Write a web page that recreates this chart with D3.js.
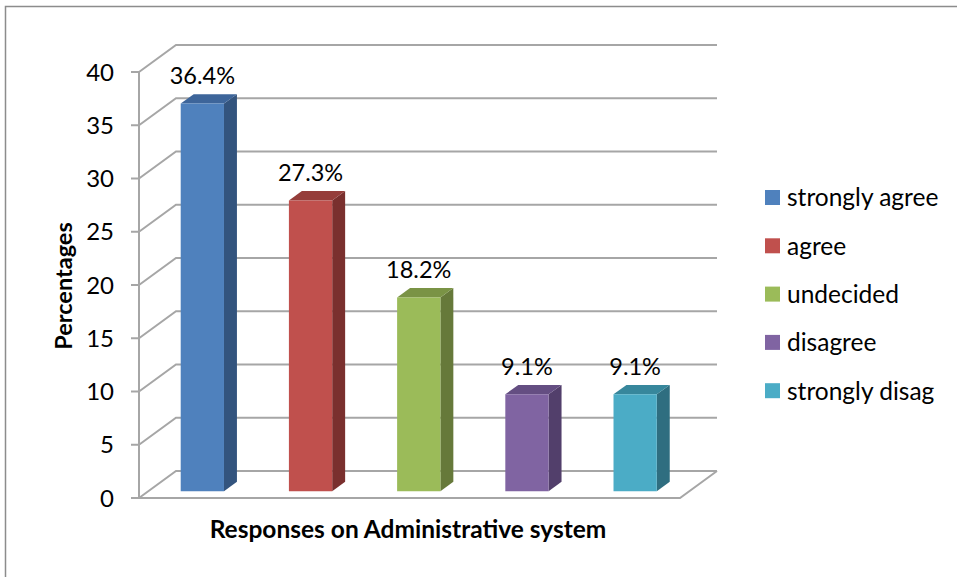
<!DOCTYPE html>
<html>
<head>
<meta charset="utf-8">
<script src="https://cdn.jsdelivr.net/npm/d3@7"></script>
<style>
  html, body { margin: 0; padding: 0; background: #fff; }
  svg { display: block; }
  text { font-family: Lato, "Open Sans", sans-serif; fill: #000; }
</style>
</head>
<body>
<svg id="chart" width="957" height="577"></svg>
<script>
// ---- data ----
const categories = ["strongly agree", "agree", "undecided", "disagree", "strongly disag"];
const values = [36.4, 27.3, 18.2, 9.1, 9.1];
const valueLabels = ["36.4%", "27.3%", "18.2%", "9.1%", "9.1%"];
const yTicks = [0, 5, 10, 15, 20, 25, 30, 35, 40];
const frontColors = ["#4F81BD", "#C0504D", "#9BBB59", "#8064A2", "#4BACC6"];
const sideColors  = ["#33547E", "#7A302E", "#66793A", "#523F6B", "#2F6E80"];
const topColors   = ["#3D659A", "#953D3A", "#7A9345", "#644E82", "#37879C"];
const xTitle = "Responses on Administrative system";
const yTitle = "Percentages";

// ---- layout ----
const svg = d3.select("#chart");
const DX = 37, DY = 27;           // full depth offset (oblique projection)
const Z0 = 0.25, Z1 = 0.6;        // bar depth range (fraction of full depth)
const x0 = 139, x1 = 680;         // front floor edge

const y = d3.scaleLinear().domain([0, 40]).range([498, 72]);
const x = d3.scaleBand().domain(categories).range([x0, x1]).paddingInner(0.6).paddingOuter(0.3);

const P = (px, v, z) => [px + z * DX, y(v) - z * DY];

// outer border
svg.append("path").attr("d", "M5.5,577 L5.5,6.5 L957,6.5")
  .attr("fill", "none").attr("stroke", "#8c8c8c").attr("stroke-width", 1.5);

const grid = svg.append("g").attr("fill", "none").attr("stroke", "#a6a6a6").attr("stroke-width", 2);

// back wall gridlines + side wall diagonals
yTicks.forEach(t => {
  const a = P(x0, t, 0), b = P(x0, t, 1), c = P(x1, t, 1);
  grid.append("path").attr("d", `M${a[0]},${a[1]} L${b[0]},${b[1]} L${c[0]},${c[1]}`);
});
// floor front edge and right edge
{
  const a = P(x0, 0, 0), b = P(x1, 0, 0), c = P(x1, 0, 1);
  grid.append("path").attr("d", `M${a[0]},${a[1]} L${b[0]},${b[1]} L${c[0]},${c[1]}`);
}
// value axis (front-left)
grid.append("line").attr("x1", x0).attr("x2", x0).attr("y1", y(0)).attr("y2", y(40));
yTicks.forEach(t => {
  grid.append("line").attr("x1", x0 - 8).attr("x2", x0).attr("y1", y(t)).attr("y2", y(t));
});

// tick labels
svg.append("g").selectAll("text").data(yTicks).join("text")
  .attr("x", 114).attr("y", d => y(d)).attr("dy", "0.36em")
  .attr("text-anchor", "end").attr("font-size", 24).text(d => d);

// bars
const bars = svg.append("g");
categories.forEach((c, i) => {
  const v = values[i];
  const bx = x(c), bw = x.bandwidth();
  const fbl = P(bx, 0, Z0), ftl = P(bx, v, Z0), ftr = P(bx + bw, v, Z0), fbr = P(bx + bw, 0, Z0);
  const btl = P(bx, v, Z1), btr = P(bx + bw, v, Z1), bbr = P(bx + bw, 0, Z1);
  const poly = pts => "M" + pts.map(p => p.join(",")).join("L") + "Z";
  bars.append("path").attr("d", poly([fbr, ftr, btr, bbr])).attr("fill", sideColors[i]);
  bars.append("path").attr("d", poly([ftl, btl, btr, ftr])).attr("fill", topColors[i]);
  bars.append("path").attr("d", poly([fbl, ftl, ftr, fbr])).attr("fill", frontColors[i]);
  // data label
  svg.append("text")
    .attr("x", bx + bw / 2 + Z0 * DX)
    .attr("y", btl[1] - 10)
    .attr("text-anchor", "middle").attr("font-size", 23.5)
    .text(valueLabels[i]);
});

// axis titles
svg.append("text").attr("x", 408).attr("y", 538).attr("text-anchor", "middle")
  .attr("font-size", 24.5).attr("font-weight", "bold").text(xTitle);
svg.append("text").attr("transform", "translate(72,286) rotate(-90)")
  .attr("text-anchor", "middle").attr("font-size", 23.5).attr("font-weight", "bold").text(yTitle);

// legend
const lg = svg.append("g").attr("transform", "translate(765,190)");
const row = lg.selectAll("g").data(categories).join("g")
  .attr("transform", (d, i) => `translate(0,${i * 48.3})`);
row.append("rect").attr("width", 15).attr("height", 15).attr("fill", (d, i) => frontColors[i]);
row.append("text").attr("x", 22).attr("y", 7.5).attr("dy", "0.36em")
  .attr("font-size", 24.5).text(d => d);
</script>
</body>
</html>
